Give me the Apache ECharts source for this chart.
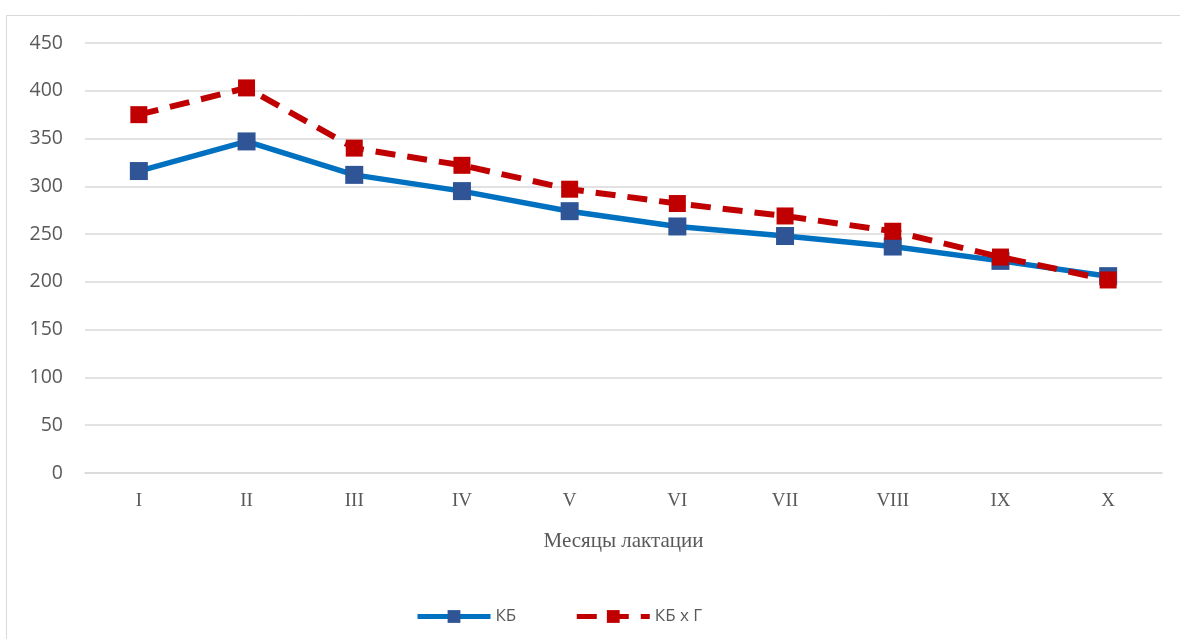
<!DOCTYPE html>
<html>
<head>
<meta charset="utf-8">
<script src="https://cdn.jsdelivr.net/npm/echarts@6/dist/echarts.min.js"></script>
<style>html,body{margin:0;padding:0;background:#fff;}#c{width:1180px;height:639px;}</style>
</head>
<body>
<div id="c"></div>
<script>
const categories = ['I','II','III','IV','V','VI','VII','VIII','IX','X'];
const seriesKB = [316, 347, 312, 295, 274, 258, 248, 237, 222, 206];
const seriesKBG = [375, 403, 340, 322, 297, 282, 269, 253, 226, 202];
const yTicks = {min: 0, max: 450, interval: 50};

const chart = echarts.init(document.getElementById('c'));
chart.setOption({
  animation: false,
  backgroundColor: '#fff',
  graphic: [{
    type: 'rect', left: 4, top: 13,
    shape: {width: 1200, height: 700},
    style: {fill: 'none', stroke: '#d9d9d9', lineWidth: 1}
  }],
  grid: {left: 85, right: 18, top: 43, bottom: 166, containLabel: false},
  legend: {
    left: 410, top: 603,
    itemWidth: 73, itemHeight: 16, itemGap: 58,
    lineStyle: {width: 5},
    textStyle: {fontFamily: 'Open Sans, Liberation Sans, sans-serif', fontSize: 17, color: '#595959'},
    data: ['КБ', 'КБ x Г']
  },
  xAxis: {
    type: 'category', data: categories, boundaryGap: true,
    name: 'Месяцы лактации', nameLocation: 'middle', nameGap: 58,
    nameTextStyle: {fontFamily: 'Liberation Serif, serif', fontSize: 21, color: '#595959'},
    axisLine: {show: true, lineStyle: {color: '#d9d9d9', width: 1.5}},
    axisTick: {show: false},
    axisLabel: {fontFamily: 'Liberation Serif, serif', fontSize: 19, color: '#595959', margin: 19}
  },
  yAxis: {
    type: 'value', min: yTicks.min, max: yTicks.max, interval: yTicks.interval,
    axisLine: {show: false}, axisTick: {show: false},
    splitLine: {lineStyle: {color: '#d9d9d9', width: 1.5}},
    axisLabel: {fontFamily: 'Open Sans, Liberation Sans, sans-serif', fontSize: 19.5, color: '#595959', margin: 22}
  },
  series: [
    {
      name: 'КБ', type: 'line', data: seriesKB,
      symbol: 'rect', symbolSize: 18,
      lineStyle: {color: '#0070C0', width: 5.5},
      itemStyle: {color: '#2F5597'},
      z: 2
    },
    {
      name: 'КБ x Г', type: 'line', data: seriesKBG,
      symbol: 'rect', symbolSize: 17,
      lineStyle: {color: '#C00000', width: 6, type: [20, 12]},
      itemStyle: {color: '#C00000'},
      z: 3
    }
  ]
});
</script>
</body>
</html>
